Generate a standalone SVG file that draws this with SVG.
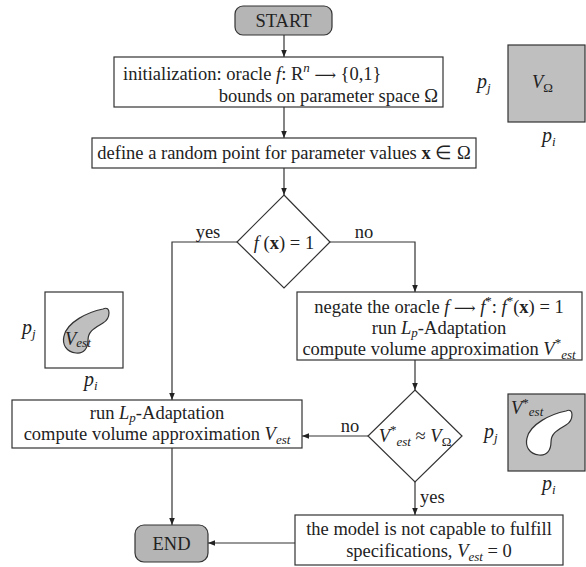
<svg xmlns="http://www.w3.org/2000/svg" width="586" height="567" viewBox="0 0 586 567">
<defs>
<marker id="ah" viewBox="0 0 10 10" refX="10" refY="5" markerWidth="7" markerHeight="7" orient="auto" markerUnits="userSpaceOnUse">
<path d="M0,1 L10,5 L0,9 Z" fill="#222"/>
</marker>
<path id="blob" d="M58,17 C66,13 66,26 58,31 C50,36 43,39 43,48 C43,56 39,62 31,61 C21,60 17,52 19,44 C22,30 43,20 58,17 Z"/>
</defs>
<style>
text{font-family:"Liberation Serif","Times New Roman",serif;font-size:18.5px;fill:#222}
.c{text-anchor:middle}
.i{font-style:italic}
.b{font-weight:bold}
.s{font-size:13px}
.r{font-style:normal}
.ar{font-family:"DejaVu Serif",serif;font-size:15px}
.p{font-size:20px;font-style:italic}
.box{fill:#fff;stroke:#333;stroke-width:1.2}
.term{fill:#b5b5b5;stroke:#333;stroke-width:1.2}
.inset{stroke:#333;stroke-width:1.2}
.ln{fill:none;stroke:#333;stroke-width:1.2}
</style>
<rect width="586" height="567" fill="#fff"/>

<g id="connectors">
<line class="ln" x1="284" y1="35" x2="284" y2="57" marker-end="url(#ah)"/>
<line class="ln" x1="284" y1="107" x2="284" y2="138" marker-end="url(#ah)"/>
<line class="ln" x1="284" y1="168" x2="284" y2="195" marker-end="url(#ah)"/>
<polyline class="ln" points="237,242 172,242 172,400" marker-end="url(#ah)"/>
<polyline class="ln" points="330,242 415,242 415,292" marker-end="url(#ah)"/>
<line class="ln" x1="415" y1="360" x2="415" y2="390" marker-end="url(#ah)"/>
<line class="ln" x1="368" y1="436" x2="302" y2="436" marker-end="url(#ah)"/>
<line class="ln" x1="415" y1="482" x2="415" y2="515" marker-end="url(#ah)"/>
<line class="ln" x1="172" y1="448" x2="172" y2="525" marker-end="url(#ah)"/>
<line class="ln" x1="295" y1="543" x2="208" y2="543" marker-end="url(#ah)"/>
<text x="208" y="238" class="c">yes</text>
<text x="364" y="238" class="c">no</text>
<text x="350" y="432" class="c">no</text>
<text x="420" y="503">yes</text>
</g>

<g id="start">
<rect class="term" x="235" y="6" width="97" height="29" rx="8"/>
<text x="283.5" y="27" class="c">START</text>
</g>

<g id="init">
<rect class="box" x="114" y="57" width="329" height="50"/>
<text x="123" y="80">initialization: oracle <tspan class="i">f</tspan>: R<tspan class="i s" dy="-8">n</tspan><tspan dy="8"> </tspan><tspan class="ar">⟶</tspan> {0,1}</text>
<text x="438" y="102" text-anchor="end">bounds on parameter space Ω</text>
</g>

<g id="define">
<rect class="box" x="92" y="138" width="384" height="30"/>
<text x="284" y="159" class="c">define a random point for parameter values <tspan class="b">x</tspan> ∈ Ω</text>
</g>

<g id="decision1">
<polygon class="box" points="284,195 330,242 284,288 237,242"/>
<text x="284" y="249" class="c"><tspan class="i">f</tspan> (<tspan class="b">x</tspan>) = 1</text>
</g>

<g id="negate">
<rect class="box" x="297" y="292" width="285" height="68"/>
<text x="439" y="313" class="c">negate the oracle <tspan class="i">f</tspan> <tspan class="ar">⟶</tspan> <tspan class="i">f</tspan><tspan class="s" dy="-8">*</tspan><tspan dy="8">: </tspan><tspan class="i">f</tspan><tspan class="s" dy="-8">*</tspan><tspan dy="8">(</tspan><tspan class="b">x</tspan>) = 1</text>
<text x="439" y="334" class="c">run <tspan class="i">L</tspan><tspan class="i s" dy="3">p</tspan><tspan dy="-3">-Adaptation</tspan></text>
<text x="439" y="355" class="c">compute volume approximation <tspan class="i">V</tspan><tspan class="s" dy="-8">*</tspan><tspan class="i s" dy="12">est</tspan></text>
</g>

<g id="runlp">
<rect class="box" x="12" y="400" width="290" height="48"/>
<text x="157" y="419" class="c">run <tspan class="i">L</tspan><tspan class="i s" dy="3">p</tspan><tspan dy="-3">-Adaptation</tspan></text>
<text x="157" y="440" class="c">compute volume approximation <tspan class="i">V</tspan><tspan class="i s" dy="4">est</tspan></text>
</g>

<g id="decision2">
<polygon class="box" points="415,390 462,436 415,482 368,436"/>
<text x="415" y="442" class="c"><tspan class="i">V</tspan><tspan class="s" dy="-8">*</tspan><tspan class="i s" dy="12">est</tspan><tspan dy="-4"> ≈ </tspan><tspan class="i">V</tspan><tspan class="s" dy="4">Ω</tspan></text>
</g>

<g id="nocap">
<rect class="box" x="295" y="515" width="268" height="50"/>
<text x="429" y="535" class="c">the model is not capable to fulfill</text>
<text x="429" y="557" class="c">specifications, <tspan class="i">V</tspan><tspan class="i s" dy="4">est</tspan><tspan dy="-4"> = 0</tspan></text>
</g>

<g id="end">
<rect class="term" x="135" y="525" width="73" height="37" rx="9"/>
<text x="171.5" y="550" class="c">END</text>
</g>

<g id="inset-omega">
<rect class="inset" x="508" y="45" width="77" height="77" fill="#bfbfbf"/>
<text x="532" y="88" class="i">V<tspan class="s r" dy="4">Ω</tspan></text>
<text x="477" y="88" class="p">p<tspan class="s" dy="4">j</tspan></text>
<text x="542" y="142" class="p">p<tspan class="s" dy="4">i</tspan></text>
</g>

<g id="inset-est">
<rect class="inset" x="45" y="292" width="78" height="76" fill="#fff"/>
<use href="#blob" transform="translate(45,292)" fill="#bfbfbf" stroke="#333" stroke-width="1.2"/>
<text x="65" y="345" class="i">V<tspan class="s" dy="2">est</tspan></text>
<text x="22" y="334" class="p">p<tspan class="s" dy="4">j</tspan></text>
<text x="84" y="386" class="p">p<tspan class="s" dy="4">i</tspan></text>
</g>

<g id="inset-complement">
<rect class="inset" x="508" y="394" width="77" height="77" fill="#bfbfbf"/>
<use href="#blob" transform="translate(508,394)" fill="#fff" stroke="#333" stroke-width="1.2"/>
<text x="511" y="414" class="i">V<tspan class="s r" dy="-7">*</tspan><tspan class="s" dy="9">est</tspan></text>
<text x="484" y="438" class="p">p<tspan class="s" dy="4">j</tspan></text>
<text x="542" y="490" class="p">p<tspan class="s" dy="4">i</tspan></text>
</g>
</svg>
